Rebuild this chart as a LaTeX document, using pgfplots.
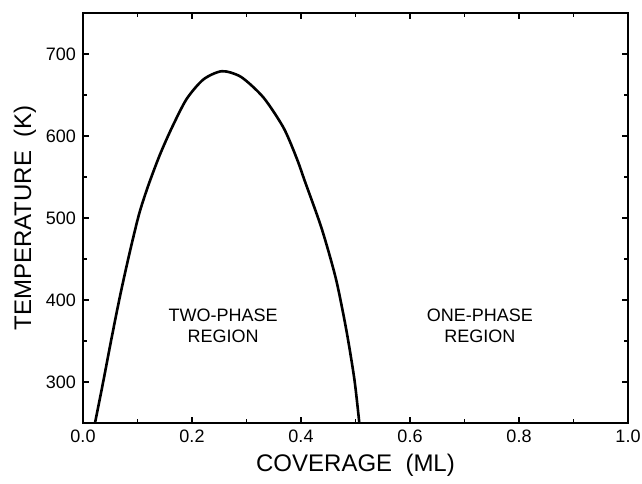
\documentclass[border=0pt]{standalone}
\usepackage{fontspec}
\setmainfont{Liberation Sans}
\usepackage{pgfplots}
\pgfplotsset{compat=1.18}
\usetikzlibrary{calc}

\begin{document}
\begin{tikzpicture}
\begin{axis}[
  width=272.5pt, height=205pt,
  scale only axis,
  xmin=0, xmax=1, ymin=250, ymax=750,
  xtick={0,0.2,0.4,0.6,0.8,1.0},
  ytick={300,400,500,600,700},
  minor x tick num=1,
  minor y tick num=1,
  tick align=inside,
  major tick length=3pt,
  minor tick length=2pt,
  axis line style={line width=1pt},
  every tick/.style={line width=0.8pt, black},
  x tick label style={inner xsep=0pt, /pgf/number format/.cd, fixed, fixed zerofill, precision=1, assume math mode=true},
  y tick label style={/pgf/number format/assume math mode=true},
  tick label style={font=\fontsize{9}{10}\selectfont},
  label style={font=\fontsize{12}{13}\selectfont},
  xlabel={COVERAGE~~(ML)},
  ylabel={TEMPERATURE~~(K)},
  xlabel style={yshift=1pt},
  ylabel style={yshift=-2pt},
]
% phase boundary
\addplot[black, line width=1.3pt, smooth, tension=0.45] coordinates {
  (0.022,250) (0.037,300) (0.052,352) (0.068,405) (0.085,456)
  (0.103,505) (0.120,540) (0.141,577) (0.163,610) (0.190,645)
  (0.221,669) (0.255,679) (0.290,672) (0.331,647) (0.368,610)
  (0.392,573) (0.407,545) (0.438,487) (0.464,426) (0.483,364)
  (0.498,303) (0.507,250)
};
\node[align=center, font=\fontsize{9}{10.5}\selectfont] at (axis cs:0.257,368) {TWO-PHASE\\REGION};
\node[align=center, font=\fontsize{9}{10.5}\selectfont] at (axis cs:0.728,368) {ONE-PHASE\\REGION};
\coordinate (bl) at (rel axis cs:0,0);
\coordinate (tr) at (rel axis cs:1,1);
\end{axis}
\path ($(bl)+(-41.5pt,-26pt)$) rectangle ($(tr)+(7pt,6.5pt)$);
\end{tikzpicture}
\end{document}
